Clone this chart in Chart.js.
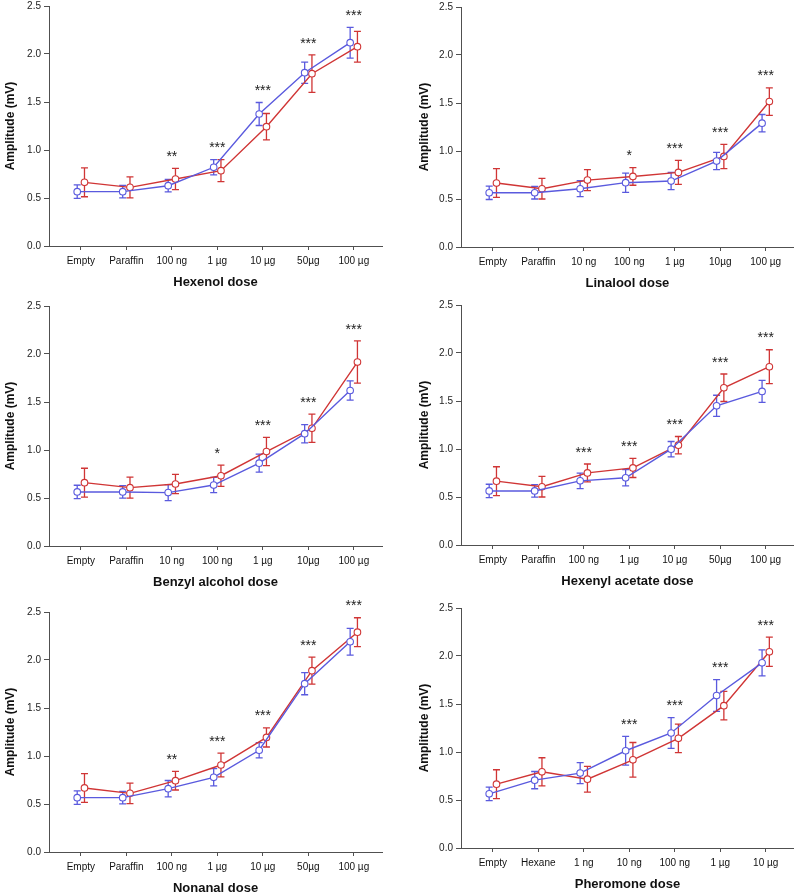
<!DOCTYPE html>
<html>
<head>
<meta charset="utf-8">
<script src="https://cdn.jsdelivr.net/npm/chart.js@4.4.1/dist/chart.umd.min.js"></script>
<style>
    body { margin: 0; background: #fff; width: 799px; height: 895px; position: relative; overflow: hidden; }
    .panel { position: absolute; height: 300px; }
</style>
</head>
<body>
<div class="panel" id="p1" style="left:0;top:-6px;width:400px"><canvas id="c1"></canvas></div>
<div class="panel" id="p2" style="left:400px;top:-5px;width:399px"><canvas id="c2"></canvas></div>
<div class="panel" id="p3" style="left:0;top:294px;width:400px"><canvas id="c3"></canvas></div>
<div class="panel" id="p4" style="left:400px;top:293px;width:399px"><canvas id="c4"></canvas></div>
<div class="panel" id="p5" style="left:0;top:600px;width:400px"><canvas id="c5"></canvas></div>
<div class="panel" id="p6" style="left:400px;top:596px;width:399px"><canvas id="c6"></canvas></div>

<script>
// doses (x categories) for each panel
var hexenolDoses = ['Empty', 'Paraffin', '100 ng', '1 µg', '10 µg', '50µg', '100 µg'];
var linaloolDoses = ['Empty', 'Paraffin', '10 ng', '100 ng', '1 µg', '10µg', '100 µg'];
var benzylDoses = ['Empty', 'Paraffin', '10 ng', '100 ng', '1 µg', '10µg', '100 µg'];
var hexenylDoses = ['Empty', 'Paraffin', '100 ng', '1 µg', '10 µg', '50µg', '100 µg'];
var nonanalDoses = ['Empty', 'Paraffin', '100 ng', '1 µg', '10 µg', '50µg', '100 µg'];
var pheromoneDoses = ['Empty', 'Hexane', '1 ng', '10 ng', '100 ng', '1 µg', '10 µg'];

// amplitudes (mV), blue series and red series, with error bars
var hexenolBlue = [0.566, 0.566, 0.628, 0.82, 1.375, 1.805, 2.118];
var hexenolBlueErr = [0.07, 0.065, 0.065, 0.08, 0.12, 0.11, 0.16];
var hexenolRed = [0.663, 0.611, 0.698, 0.785, 1.243, 1.795, 2.076];
var hexenolRedErr = [0.15, 0.11, 0.11, 0.115, 0.137, 0.195, 0.16];
var hexenolStars = ['', '', '**', '***', '***', '***', '***'];

var linaloolBlue = [0.565, 0.565, 0.607, 0.67, 0.687, 0.895, 1.29];
var linaloolBlueErr = [0.07, 0.065, 0.083, 0.1, 0.09, 0.09, 0.09];
var linaloolRed = [0.666, 0.607, 0.697, 0.735, 0.777, 0.943, 1.515];
var linaloolRedErr = [0.15, 0.107, 0.11, 0.092, 0.125, 0.127, 0.143];
var linaloolStars = ['', '', '', '*', '***', '***', '***'];

var benzylBlue = [0.563, 0.563, 0.556, 0.635, 0.863, 1.17, 1.62];
var benzylBlueErr = [0.07, 0.065, 0.083, 0.08, 0.093, 0.095, 0.1];
var benzylRed = [0.66, 0.608, 0.646, 0.732, 0.984, 1.226, 1.916];
var benzylRedErr = [0.15, 0.11, 0.1, 0.11, 0.147, 0.147, 0.22];
var benzylStars = ['', '', '', '*', '***', '***', '***'];

var hexenylBlue = [0.563, 0.563, 0.668, 0.70, 0.998, 1.45, 1.60];
var hexenylBlueErr = [0.07, 0.065, 0.08, 0.085, 0.08, 0.11, 0.115];
var hexenylRed = [0.665, 0.607, 0.751, 0.803, 1.04, 1.638, 1.857];
var hexenylRedErr = [0.15, 0.107, 0.093, 0.1, 0.09, 0.143, 0.177];
var hexenylStars = ['', '', '***', '***', '***', '***', '***'];

var nonanalBlue = [0.566, 0.566, 0.66, 0.778, 1.06, 1.753, 2.19];
var nonanalBlueErr = [0.07, 0.065, 0.085, 0.09, 0.08, 0.115, 0.14];
var nonanalRed = [0.667, 0.611, 0.743, 0.906, 1.194, 1.889, 2.29];
var nonanalRedErr = [0.15, 0.107, 0.097, 0.123, 0.1, 0.14, 0.15];
var nonanalStars = ['', '', '**', '***', '***', '***', '***'];

var pheromoneBlue = [0.564, 0.707, 0.78, 1.013, 1.198, 1.588, 1.929];
var pheromoneBlueErr = [0.07, 0.09, 0.11, 0.15, 0.16, 0.165, 0.135];
var pheromoneRed = [0.665, 0.794, 0.717, 0.919, 1.142, 1.483, 2.044];
var pheromoneRedErr = [0.15, 0.146, 0.134, 0.18, 0.148, 0.148, 0.152];
var pheromoneStars = ['', '', '', '***', '***', '***', '***'];

var yTicks = [0, 0.5, 1.0, 1.5, 2.0, 2.5];

var blue = '#5a5ade';
var red = '#d03535';
var axisColor = '#505050';
var fontFamily = "'Liberation Sans', Arial, sans-serif";

// error bars go under the markers, stars on top
var errorStars = {
    id: 'errorStars',
    beforeDatasetsDraw: function (chart) {
        var ctx = chart.ctx;
        var x = chart.scales.x, y = chart.scales.y;
        ctx.save();
        chart.data.datasets.forEach(function (ds) {
            ctx.strokeStyle = ds.borderColor;
            ctx.lineWidth = 1.3;
            ds.data.forEach(function (p, i) {
                var px = x.getPixelForValue(p.x);
                var top = y.getPixelForValue(p.y + ds.errors[i]);
                var bot = y.getPixelForValue(p.y - ds.errors[i]);
                ctx.beginPath();
                ctx.moveTo(px, top); ctx.lineTo(px, bot);
                ctx.moveTo(px - 3.5, top); ctx.lineTo(px + 3.5, top);
                ctx.moveTo(px - 3.5, bot); ctx.lineTo(px + 3.5, bot);
                ctx.stroke();
            });
        });
        ctx.restore();
    },
    afterDatasetsDraw: function (chart, args, opts) {
        var ctx = chart.ctx;
        var x = chart.scales.x, y = chart.scales.y;
        var sets = chart.data.datasets;
        ctx.save();
        ctx.fillStyle = '#222';
        ctx.font = '14px ' + fontFamily;
        ctx.textAlign = 'center';
        ctx.textBaseline = 'alphabetic';
        opts.stars.forEach(function (s, i) {
            if (!s) return;
            var upper = Math.max(sets[0].data[i].y + sets[0].errors[i], sets[1].data[i].y + sets[1].errors[i]);
            ctx.fillText(s, x.getPixelForValue(i), y.getPixelForValue(upper + 0.16) + 8);
        });
        ctx.restore();
    }
};

function points(values, shift) {
    return values.map(function (v, i) { return {x: i + shift, y: v}; });
}

function series(values, errors, color, shift) {
    return {
        data: points(values, shift),
        errors: errors,
        borderColor: color,
        borderWidth: 1.4,
        pointRadius: 3.3,
        pointBorderWidth: 1.1,
        pointBackgroundColor: '#fff',
        pointBorderColor: color,
        tension: 0,
        clip: false
    };
}

function makeChart(id, right, doses, blueVals, blueErr, redVals, redErr, stars, title) {
    var ctx = document.getElementById(id).getContext('2d');
    return new Chart(ctx, {
        type: 'line',
        data: {
            datasets: [
                series(blueVals, blueErr, blue, -0.08),
                series(redVals, redErr, red, 0.08)
            ]
        },
        options: {
            responsive: true,
            maintainAspectRatio: false,
            animation: false,
            layout: {padding: {left: right ? 14 : 0, right: right ? 3 : 18, top: 12, bottom: 0}},
            plugins: {
                legend: {display: false},
                tooltip: {enabled: false},
                errorStars: {stars: stars}
            },
            scales: {
                x: {
                    type: 'linear',
                    min: -0.7,
                    max: 6.62,
                    afterBuildTicks: function (scale) {
                        scale.ticks = doses.map(function (d, i) { return {value: i}; });
                    },
                    afterFit: function (scale) { scale.height = 48; },
                    ticks: {
                        autoSkip: false,
                        maxRotation: 0,
                        padding: 5,
                        color: '#111',
                        font: {family: fontFamily, size: 10},
                        callback: function (v) { return doses[v]; }
                    },
                    grid: {drawOnChartArea: false, drawTicks: true, tickLength: 4, color: axisColor},
                    border: {display: true, color: axisColor, width: 1},
                    title: {
                        display: true,
                        text: title,
                        color: '#111',
                        font: {family: fontFamily, size: 13, weight: 'bold'},
                        padding: {top: 0, bottom: 4}
                    }
                },
                y: {
                    min: 0,
                    max: 2.5,
                    afterBuildTicks: function (scale) {
                        scale.ticks = yTicks.map(function (v) { return {value: v}; });
                    },
                    afterFit: function (scale) { scale.width = right ? 47 : 49; },
                    ticks: {
                        padding: 3,
                        color: '#222',
                        font: {family: fontFamily, size: 10},
                        callback: function (v) { return v.toFixed(1); }
                    },
                    grid: {drawOnChartArea: false, drawTicks: true, tickLength: 5, color: axisColor},
                    border: {display: true, color: axisColor, width: 1},
                    title: {
                        display: true,
                        text: 'Amplitude (mV)',
                        color: '#111',
                        font: {family: fontFamily, size: 12, weight: 'bold'},
                        padding: {top: 3, bottom: 0}
                    }
                }
            }
        },
        plugins: [errorStars]
    });
}

makeChart('c1', false, hexenolDoses, hexenolBlue, hexenolBlueErr, hexenolRed, hexenolRedErr, hexenolStars, 'Hexenol dose');
makeChart('c2', true, linaloolDoses, linaloolBlue, linaloolBlueErr, linaloolRed, linaloolRedErr, linaloolStars, 'Linalool dose');
makeChart('c3', false, benzylDoses, benzylBlue, benzylBlueErr, benzylRed, benzylRedErr, benzylStars, 'Benzyl alcohol dose');
makeChart('c4', true, hexenylDoses, hexenylBlue, hexenylBlueErr, hexenylRed, hexenylRedErr, hexenylStars, 'Hexenyl acetate dose');
makeChart('c5', false, nonanalDoses, nonanalBlue, nonanalBlueErr, nonanalRed, nonanalRedErr, nonanalStars, 'Nonanal dose');
makeChart('c6', true, pheromoneDoses, pheromoneBlue, pheromoneBlueErr, pheromoneRed, pheromoneRedErr, pheromoneStars, 'Pheromone dose');
</script>
</body>
</html>
